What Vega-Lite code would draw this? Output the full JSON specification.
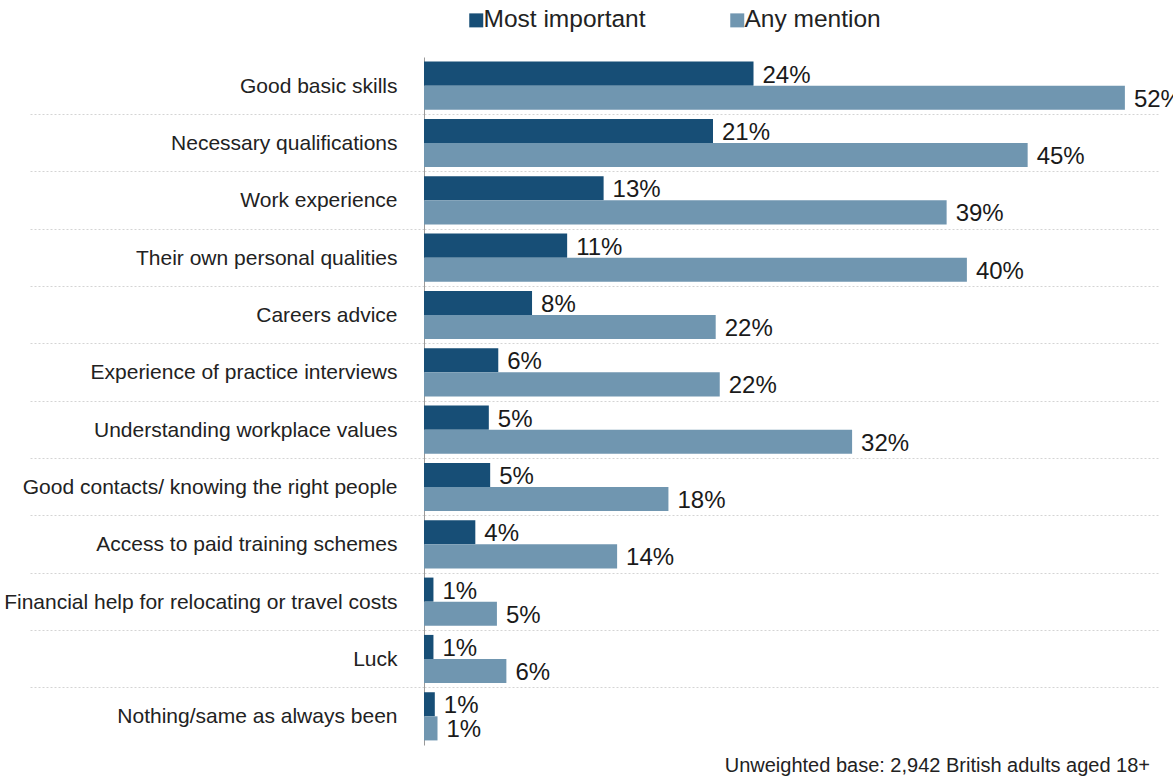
{
  "$schema": "https://vega.github.io/schema/vega-lite/v6.json",
  "autosize": {"type": "none"},
  "width": 736,
  "height": 688,
  "padding": {"left": 424, "top": 57, "right": 13, "bottom": 35},
  "background": "white",
  "title": {
    "text": "Unweighted base:  2,942 British adults aged  18+",
    "orient": "bottom",
    "anchor": "end",
    "frame": "group",
    "offset": 11,
    "dx": -10,
    "font": "Liberation Sans",
    "fontSize": 20,
    "fontWeight": "normal",
    "color": "#222222"
  },
  "config": {
    "view": {"stroke": null},
    "font": "Liberation Sans"
  },
  "data": {
    "values": [
      {"item": "Good basic skills", "series": "Most important", "value": 0.244},
      {"item": "Good basic skills", "series": "Any mention", "value": 0.519},
      {"item": "Necessary qualifications", "series": "Most important", "value": 0.214},
      {"item": "Necessary qualifications", "series": "Any mention", "value": 0.447},
      {"item": "Work experience", "series": "Most important", "value": 0.133},
      {"item": "Work experience", "series": "Any mention", "value": 0.387},
      {"item": "Their own personal qualities", "series": "Most important", "value": 0.106},
      {"item": "Their own personal qualities", "series": "Any mention", "value": 0.402},
      {"item": "Careers advice", "series": "Most important", "value": 0.080},
      {"item": "Careers advice", "series": "Any mention", "value": 0.216},
      {"item": "Experience of practice interviews", "series": "Most important", "value": 0.055},
      {"item": "Experience of practice interviews", "series": "Any mention", "value": 0.219},
      {"item": "Understanding  workplace values", "series": "Most important", "value": 0.048},
      {"item": "Understanding  workplace values", "series": "Any mention", "value": 0.317},
      {"item": "Good contacts/  knowing the right people", "series": "Most important", "value": 0.049},
      {"item": "Good contacts/  knowing the right people", "series": "Any mention", "value": 0.181},
      {"item": "Access to paid training schemes", "series": "Most important", "value": 0.038},
      {"item": "Access to paid training schemes", "series": "Any mention", "value": 0.143},
      {"item": "Financial help for relocating or travel costs", "series": "Most important", "value": 0.007},
      {"item": "Financial help for relocating or travel costs", "series": "Any mention", "value": 0.054},
      {"item": "Luck", "series": "Most important", "value": 0.007},
      {"item": "Luck", "series": "Any mention", "value": 0.061},
      {"item": "Nothing/same  as always been", "series": "Most important", "value": 0.008},
      {"item": "Nothing/same  as always been", "series": "Any mention", "value": 0.010}
    ]
  },
  "encoding": {
    "y": {
      "field": "item",
      "type": "nominal",
      "sort": null,
      "scale": {"paddingInner": 0, "paddingOuter": 0},
      "axis": {
        "title": null,
        "bandPosition": 0,
        "labelFont": "Liberation Sans",
        "labelFontSize": 21,
        "labelColor": "#222222",
        "labelLimit": 424,
        "labelPadding": -367,
        "labelBaseline": "middle",
        "labelOffset": 1,
        "tickSize": 394,
        "tickColor": "#d4d4d4",
        "tickDash": [2, 2],
        "tickOpacity": {"condition": {"test": "datum.value === 'Good basic skills'", "value": 0}, "value": 1},
        "grid": true,
        "gridColor": "#d4d4d4",
        "gridDash": [2, 2],
        "gridOpacity": {"condition": {"test": "datum.value === 'Good basic skills'", "value": 0}, "value": 1},
        "domainColor": "#9a9a9a",
        "domainWidth": 1
      }
    },
    "yOffset": {
      "field": "series",
      "type": "nominal",
      "sort": ["Most important", "Any mention"],
      "scale": {"paddingInner": 0, "paddingOuter": 0.19}
    },
    "x": {
      "field": "value",
      "type": "quantitative",
      "scale": {"domain": [0, 0.545], "nice": false, "zero": true},
      "axis": null
    }
  },
  "layer": [
    {
      "mark": {"type": "bar", "cornerRadius": 0},
      "encoding": {
        "color": {
          "field": "series",
          "type": "nominal",
          "sort": ["Most important", "Any mention"],
          "scale": {"domain": ["Most important", "Any mention"], "range": ["#174e76", "#7096b0"]},
          "legend": {
            "title": null,
            "orient": "none",
            "direction": "horizontal",
            "legendX": 40,
            "legendY": -49,
            "symbolType": "square",
            "symbolSize": 196,
            "symbolStrokeWidth": 0,
            "labelFont": "Liberation Sans",
            "labelFontSize": 24.5,
            "labelColor": "#222222",
            "labelOffset": -5,
            "labelLimit": 300,
            "columnPadding": 79
          }
        }
      }
    },
    {
      "mark": {
        "type": "text",
        "align": "left",
        "baseline": "middle",
        "dx": 9,
        "dy": 2,
        "font": "Liberation Sans",
        "fontSize": 24,
        "color": "#1a1a1a"
      },
      "encoding": {
        "text": {"field": "value", "type": "quantitative", "format": ".0%"}
      }
    }
  ]
}
